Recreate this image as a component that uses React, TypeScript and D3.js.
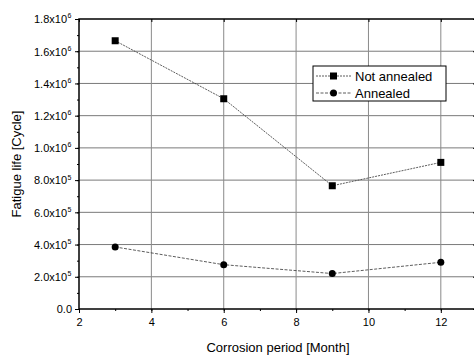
import React, { useEffect, useRef } from 'react';
import * as d3 from 'd3';

const months = [3, 6, 9, 12];
const notAnnealed = [1.665e6, 1.305e6, 7.65e5, 9.1e5];
const annealed = [3.85e5, 2.75e5, 2.2e5, 2.9e5];
const yTicks = [0, 2e5, 4e5, 6e5, 8e5, 1e6, 1.2e6, 1.4e6, 1.6e6, 1.8e6];
const xTicks = [2, 4, 6, 8, 10, 12];
const seriesNames = ['Not annealed', 'Annealed'];

const App = () => {
  const svgRef = useRef<SVGSVGElement>(null);

  useEffect(() => {
    const svg = d3.select(svgRef.current);
    svg.selectAll('*').remove();

    const margin = { top: 19, left: 79 };
    const width = 398;
    const height = 290;
    const font = 'Liberation Sans, Arial, sans-serif';

    const x = d3.scaleLinear().domain([2, 13]).range([0, width]);
    const y = d3.scaleLinear().domain([0, 1.8e6]).range([height, 0]);

    const g = svg.append('g')
      .attr('transform', `translate(${margin.left},${margin.top})`);

    // grid
    g.append('g')
      .selectAll('line')
      .data(yTicks.slice(1, -1))
      .enter()
      .append('line')
      .attr('x1', 0).attr('x2', width)
      .attr('y1', d => y(d)).attr('y2', d => y(d))
      .attr('stroke', '#7a7a7a')
      .attr('stroke-width', 1);

    g.append('g')
      .selectAll('line')
      .data(xTicks.slice(1))
      .enter()
      .append('line')
      .attr('y1', 0).attr('y2', height)
      .attr('x1', d => x(d)).attr('x2', d => x(d))
      .attr('stroke', '#8a8a8a')
      .attr('stroke-width', 1);

    // axes
    const minorX = d3.range(2, 13.5, 1);
    const minorY = d3.range(0, 1.8e6 + 1, 1e5);

    const bottom = g.append('g').attr('transform', `translate(0,${height})`)
      .call(d3.axisBottom(x).tickValues(xTicks).tickSize(4).tickFormat(d3.format('d')));
    bottom.select('.domain').remove();
    bottom.selectAll('text').style('font-size', '11px').style('font-family', font).attr('dy', '0.9em');
    g.append('g').attr('transform', `translate(0,${height})`)
      .call(d3.axisBottom(x).tickValues(minorX).tickSize(2).tickFormat(() => ''))
      .select('.domain').remove();

    const fmt = (d: number) => {
      if (d === 0) return ['0.0', ''];
      const e = Math.floor(Math.log10(d));
      return [`${(d / Math.pow(10, e)).toFixed(1)}x10`, `${e}`];
    };
    const left = g.append('g')
      .call(d3.axisLeft(y).tickValues(yTicks).tickSize(4).tickFormat(() => ''));
    left.select('.domain').remove();
    left.selectAll('.tick').each(function (d: any) {
      const [base, sup] = fmt(d);
      d3.select(this).append('text')
        .attr('x', sup ? -12 : -7)
        .attr('dy', '0.35em')
        .attr('text-anchor', 'end')
        .attr('fill', '#000')
        .style('font-size', '11px')
        .style('font-family', font)
        .text(base);
      if (sup) {
        d3.select(this).append('text')
          .attr('x', -11.5)
          .attr('dy', '-0.15em')
          .attr('text-anchor', 'start')
          .attr('fill', '#000')
          .style('font-size', '7px')
          .style('font-family', font)
          .text(sup);
      }
    });
    g.append('g')
      .call(d3.axisLeft(y).tickValues(minorY).tickSize(2).tickFormat(() => ''))
      .select('.domain').remove();

    // top and right ticks pointing inward
    g.append('g').call(d3.axisBottom(x).tickValues(xTicks).tickSize(3).tickFormat(() => ''))
      .select('.domain').remove();
    g.append('g').attr('transform', `translate(${width},0)`)
      .call(d3.axisRight(y).tickValues(yTicks).tickSize(-4).tickFormat(() => ''))
      .select('.domain').remove();
    g.append('g').attr('transform', `translate(${width},0)`)
      .call(d3.axisRight(y).tickValues(minorY).tickSize(-2).tickFormat(() => ''))
      .select('.domain').remove();

    g.append('rect')
      .attr('width', width).attr('height', height)
      .attr('fill', 'none').attr('stroke', '#000').attr('stroke-width', 1.5);

    // series
    const line = d3.line<number>()
      .x((_, i) => x(months[i]))
      .y(d => y(d));

    [notAnnealed, annealed].forEach((vals, si) => {
      g.append('path')
        .datum(vals)
        .attr('d', line)
        .attr('fill', 'none')
        .attr('stroke', '#333')
        .attr('stroke-width', 0.8)
        .attr('stroke-dasharray', si === 0 ? '2,1' : '3,1.5');
      if (si === 0) {
        g.selectAll(null).data(vals).enter().append('rect')
          .attr('x', (_, i) => x(months[i]) - 3.5)
          .attr('y', d => y(d) - 3.5)
          .attr('width', 7).attr('height', 7)
          .attr('fill', '#000');
      } else {
        g.selectAll(null).data(vals).enter().append('circle')
          .attr('cx', (_, i) => x(months[i]))
          .attr('cy', d => y(d))
          .attr('r', 3.5)
          .attr('fill', '#000');
      }
    });

    // legend
    const legend = svg.append('g').attr('transform', 'translate(313,66)');
    legend.append('rect')
      .attr('width', 133).attr('height', 35)
      .attr('fill', '#fff').attr('stroke', '#000').attr('stroke-width', 1);
    seriesNames.forEach((name, i) => {
      const ly = 10 + i * 17;
      legend.append('line')
        .attr('x1', 3).attr('x2', 38).attr('y1', ly).attr('y2', ly)
        .attr('stroke', '#333').attr('stroke-width', 0.8)
        .attr('stroke-dasharray', i === 0 ? '2,1' : '3,1.5');
      if (i === 0) {
        legend.append('rect').attr('x', 17).attr('y', ly - 3.5).attr('width', 7).attr('height', 7).attr('fill', '#000');
      } else {
        legend.append('circle').attr('cx', 20.5).attr('cy', ly).attr('r', 3.5).attr('fill', '#000');
      }
      legend.append('text')
        .attr('x', 42).attr('y', ly).attr('dy', '0.35em')
        .style('font-size', '13px').style('font-family', font)
        .text(name);
    });

    // titles
    svg.append('text')
      .attr('x', margin.left + width / 2).attr('y', 352)
      .attr('text-anchor', 'middle')
      .style('font-size', '13px').style('font-family', font)
      .text('Corrosion period [Month]');
    svg.append('text')
      .attr('transform', `translate(21,${margin.top + height / 2}) rotate(-90)`)
      .attr('text-anchor', 'middle')
      .style('font-size', '13px').style('font-family', font)
      .text('Fatigue life [Cycle]');
  }, []);

  return (
    <svg ref={svgRef} width={474} height={359}
      style={{ position: 'absolute', left: 0, top: 0, background: '#fff' }} />
  );
};

export default App;
